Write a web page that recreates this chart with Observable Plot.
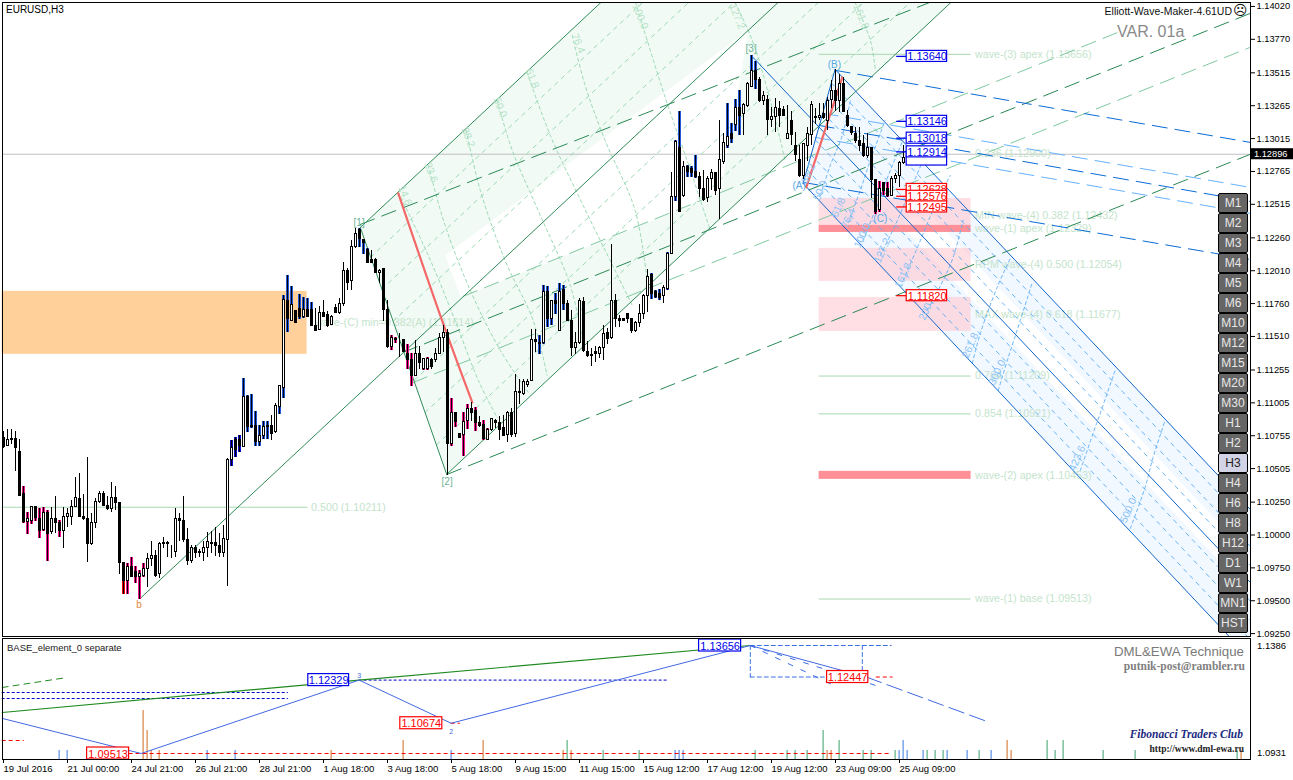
<!DOCTYPE html>
<html><head><meta charset="utf-8">
<script src="https://cdn.jsdelivr.net/npm/d3@7"></script>
<script src="https://cdn.jsdelivr.net/npm/@observablehq/plot@0.6"></script>
<style>
html,body{margin:0;padding:0;background:#fff;overflow:hidden}
#wrap{position:relative;width:1293px;height:780px;font-family:"Liberation Sans",Arial,sans-serif}
#wrap svg{display:block;background:transparent;overflow:visible}
.ov{position:absolute;white-space:nowrap;line-height:1}
.btn{position:absolute;left:1218px;width:28px;height:18px;background:#666;border:1px solid #000;border-radius:2px;color:#e8e8e8;font-size:12px;line-height:18px;text-align:center}
.btn.on{background:#d2d4e6;color:#222}
</style></head><body><div id="wrap"></div>
<script>
// Candles, prices in pips above 1.0000 (1074 = 1.1074)
const opens=[1074,1068,1073,1073,1063,1031,1010,1011,1021,1012,1004,1017,1002,1012,1009,1003,1014,1014,1021,1027,1014,1012,993,1009,1025,1031,1022,1020,1028,1024,979,965,976,972,968,969,974,982,984,970,994,994,987,987,1012,1011,996,980,990,987,986,990,994,994,992,986,996,1057,1072,1072,1067,1105,1083,1083,1071,1075,1083,1083,1078,1097,1112,1178,1163,1170,1172,1166,1171,1171,1159,1156,1169,1167,1160,1173,1169,1176,1201,1193,1219,1232,1224,1217,1209,1209,1199,1202,1171,1143,1149,1148,1148,1138,1133,1121,1138,1126,1126,1133,1133,1138,1150,1154,1069,1093,1077,1076,1087,1096,1094,1085,1084,1072,1080,1087,1085,1081,1076,1093,1077,1109,1107,1114,1117,1148,1145,1146,1185,1164,1178,1155,1186,1176,1163,1142,1146,1177,1139,1137,1139,1138,1142,1154,1150,1178,1164,1164,1168,1164,1155,1161,1168,1182,1198,1185,1183,1182,1187,1214,1257,1294,1258,1280,1278,1276,1272,1263,1256,1271,1275,1263,1284,1296,1305,1312,1325,1320,1326,1341,1353,1346,1330,1331,1316,1318,1324,1323,1301,1315,1296,1285,1273,1296,1304,1318,1317,1320,1315,1331,1338,1330,1343,1319,1310,1305,1300,1297,1288,1294,1270,1247,1268,1263,1258,1271,1273,1283,1287];
const closes=[1067,1072,1072,1066,1030,1010,1012,1021,1013,1003,1017,1001,1012,1009,1003,1014,1016,1021,1028,1014,1012,993,1009,1025,1031,1022,1020,1028,1024,979,965,976,968,968,970,974,982,984,969,993,993,993,987,1012,1011,996,980,990,986,986,990,995,993,992,986,997,1057,1066,1065,1068,1105,1082,1082,1071,1075,1082,1082,1077,1098,1113,1179,1164,1175,1161,1166,1171,1166,1159,1155,1169,1166,1159,1166,1169,1176,1201,1192,1219,1229,1225,1222,1207,1207,1199,1201,1171,1143,1150,1148,1148,1139,1133,1121,1138,1131,1134,1134,1128,1138,1150,1154,1069,1093,1086,1074,1086,1096,1093,1085,1083,1073,1080,1088,1085,1080,1075,1093,1076,1109,1108,1116,1116,1148,1147,1146,1185,1164,1178,1176,1185,1176,1163,1142,1146,1178,1140,1136,1136,1138,1142,1153,1149,1178,1164,1163,1163,1164,1155,1161,1168,1182,1196,1183,1181,1180,1188,1214,1257,1299,1246,1280,1276,1275,1272,1263,1255,1271,1275,1262,1285,1298,1303,1301,1325,1319,1327,1343,1353,1346,1330,1334,1316,1318,1325,1319,1319,1305,1304,1289,1273,1297,1305,1327,1317,1319,1317,1330,1338,1330,1343,1322,1311,1306,1300,1296,1288,1294,1270,1246,1263,1262,1258,1271,1273,1283,1287,1290];
const highs=[1079,1080,1080,1079,1073,1037,1017,1022,1021,1020,1021,1019,1021,1029,1011,1021,1020,1026,1044,1047,1031,1059,1016,1028,1033,1033,1029,1040,1037,1024,979,978,983,976,973,978,986,995,988,994,998,995,992,1020,1016,1029,1005,992,992,989,995,1002,1003,1006,1001,1007,1058,1072,1074,1076,1119,1106,1107,1094,1083,1086,1086,1091,1100,1114,1182,1197,1189,1170,1183,1181,1180,1177,1172,1174,1178,1170,1167,1175,1180,1207,1203,1224,1233,1233,1225,1218,1216,1210,1202,1202,1178,1152,1150,1153,1149,1145,1138,1148,1143,1134,1135,1134,1142,1153,1159,1156,1104,1093,1077,1093,1099,1101,1097,1090,1087,1081,1088,1088,1090,1091,1094,1096,1122,1118,1118,1118,1156,1156,1152,1190,1189,1178,1184,1191,1190,1178,1171,1154,1180,1181,1147,1142,1143,1143,1159,1157,1221,1183,1167,1164,1168,1164,1162,1175,1183,1202,1199,1186,1187,1190,1215,1276,1300,1322,1284,1281,1280,1289,1276,1277,1273,1278,1275,1315,1305,1328,1313,1331,1338,1328,1344,1365,1360,1348,1337,1334,1325,1332,1330,1326,1327,1322,1306,1296,1298,1310,1330,1324,1328,1328,1333,1346,1354,1350,1348,1323,1311,1310,1310,1304,1305,1294,1270,1269,1268,1268,1273,1275,1284,1296,1292];
const lows=[1066,1067,1069,1048,1030,1009,1000,1008,1010,997,1003,980,1000,1001,998,990,1006,1007,1021,1014,1011,979,992,1005,1024,1022,1019,1017,1019,970,955,955,968,963,951,968,960,976,968,967,990,983,982,983,995,994,977,978,982,983,980,983,986,984,983,983,961,1052,1059,1063,1067,1078,1081,1067,1067,1073,1073,1072,1077,1092,1104,1154,1162,1161,1164,1165,1166,1159,1155,1156,1166,1158,1159,1169,1168,1174,1186,1186,1218,1219,1213,1207,1207,1199,1191,1162,1142,1140,1146,1135,1139,1126,1113,1121,1126,1125,1125,1126,1131,1138,1139,1045,1067,1082,1074,1060,1080,1086,1079,1082,1072,1072,1079,1081,1072,1075,1070,1074,1074,1099,1106,1112,1117,1139,1137,1145,1158,1159,1168,1155,1171,1162,1136,1137,1145,1139,1135,1128,1131,1134,1133,1145,1149,1158,1158,1162,1161,1153,1154,1158,1164,1169,1179,1180,1178,1176,1186,1213,1254,1245,1257,1272,1272,1271,1257,1254,1253,1262,1258,1240,1282,1294,1298,1307,1304,1304,1325,1341,1339,1329,1327,1304,1310,1306,1310,1318,1301,1296,1284,1272,1270,1284,1296,1312,1315,1316,1308,1324,1322,1321,1321,1310,1304,1298,1292,1287,1286,1256,1244,1245,1258,1257,1258,1267,1264,1282,1285];
const darkBlueBars=[57,58,59];
const blueBars=[60,61,62,63,64,65,66,69,70,71,72,73,74,75,76,77,89,90,91,134,135,136,137,138,139,140,162,163,164,166,168,169,171,172,173,181,182,183,184,187,188];
const pinkBars=[5,6,7,8,9,10,11,14,31,32,33,34,35,97,98,101,102,105,106,112,113,114,115,116,118,120,121,218,219,220,221];
const redBars=[30];

// Right axis
const priceTicks=[1.1402,1.1377,1.13515,1.13265,1.13015,1.12765,1.12515,1.1226,1.1201,1.1176,1.1151,1.11255,1.11005,1.10755,1.10505,1.1025,1.1,1.0975,1.095,1.0925];
const lastPrice=1.12896;

// Drawn objects: flat lists bar,pips,bar,pips...
const orangeZone=[-0.33,1137.4,75.9,1185.3];
const pinkZones=[[1235.5,1256],[1192.9,1218],[1154.8,1180.7]];
const redZones=[[1230.1,1235.5],[1042.3,1048.4]];
const greenBand=[89.2,1233.9,149.9,1406.6,237.4,1406.6,110.8,1046.1];
const blueBand=[207.9,1354.1,311.67,1019.5,311.67,922.9,306.4,922.9,199.9,1267.4];
const whiteGaps=[[110.4,1212.6,153.4,1310,186.2,1383.8,179.2,1259.8,114.4,1180.7],[225.4,1240.8,311.67,964,311.67,983.7,231.7,1243.8],[225.4,1240.8,311.67,964,311.67,955.6,225.4,1232.4]];
const greenSolid=[[34.2,951.8,194.2,1406.6],[89.2,1233.9,149.9,1406.6],[110.8,1046.1,237.4,1406.6],[89.2,1233.9,110.8,1046.1]];
const blueSolid=[[207.9,1354.1,311.67,1019.5],[186.9,1364.8,311.67,964],[199.9,1267.4,306.4,922.9],[199.9,1267.4,207.9,1354.1]];
const greenLong=[[89.2,1236.2,232.9,1406.6],[99.9,1138.9,311.67,1396.7],[110.9,1046.1,311.67,1289.5]];
const paleGreenLong=[[114.9,1181.5,279.2,1383],[102.4,1116,311.67,1370.9]];
const blueLong=[[207.9,1353.4,311.67,1298.6],[203.9,1311.5,311.67,1253.7],[199.9,1268.2,311.67,1209.6]];
const paleBlueLong=[[204.9,1320.7,311.67,1264.4],[202.9,1302.4,311.67,1244.6]];
const greenFine=[[91.8,1211.4,159.8,1405],[94.6,1187,171.3,1405],[97.4,1162.5,182.7,1405],[102.7,1117.6,203.7,1405],[105.4,1093.2,215,1405],[108.3,1068.6,226.6,1405]];
const blueFine=[[207,1343.7,311.67,1006.1],[205.9,1332.4,311.67,991.4],[204.9,1321.2,311.67,976.8],[203,1300.3,311.67,949.8],[201.9,1289.1,311.67,935.2],[200.9,1277.8,311.67,920.5]];
const greenArcs=[
[98.7,1260.6,106.2,1212.6,112.9,1163.2,118.7,1117.6,123.4,1089.4],
[106.2,1281.1,110.4,1235.5,116.7,1186,124.2,1140.4,131.2,1108.4],
[115.7,1307.7,119.2,1262.1,125.4,1208.8,132.4,1163.2,135.9,1121.4],
[123.4,1330.5,127.2,1292.5,134.2,1243.1,141.7,1189.8,145,1144.2],
[130.9,1351.8,136.7,1303.9,144.9,1250.7,152.9,1201.2,157.2,1174.6],
[142.2,1380,145.4,1342,150.4,1300.1,157.9,1246.9,160.9,1193.6],
[158,1405,165.9,1328.3,170.9,1284.9,176.7,1231.7],
[182.9,1405,187.2,1376.2,191.7,1330.5,195.4,1284.9],
[212.9,1405,216.7,1376.2,218,1353.4]];
const blueArcs=[
[204.2,1258.3,206.7,1281.1,209.7,1303.9,211.7,1330.5],
[211.2,1237.7,214.2,1262.1,216.7,1284.9,220.4,1315.3],
[214.9,1224.1,218.4,1250.7,221.7,1277.3,225.4,1303.9],
[219.2,1212.6,222.9,1235.5,227.2,1265.9,230.4,1288.7],
[224.9,1193.6,228.7,1220.2,232.9,1250.7,236.7,1273.5],
[230.9,1170.8,234.9,1193.6,237.4,1211.1,239.9,1239.3],
[242.2,1130.5,244.2,1153.3,248.4,1188.3,251.7,1210.4],
[248.7,1110,251.2,1135.1,254.2,1163.2,257.2,1192.1],
[269.2,1049.1,272.4,1077.3,274.7,1097,277.9,1125.2],
[281.7,1005,285.4,1036.2,287.4,1059,290.4,1087.1]];
const redLines=[[98.7,1259.8,109.9,1160.9,117.2,1100.8],[209.7,1348,200.7,1264.4]];
const greenFibLabels=[["14.6",100.4,1258.3],["23.6",106.9,1275.8],["38.2",116.2,1302.4],["50.0",124.2,1325.2],["61.8",132.2,1347.3],["76.4",143.7,1373.9],["100.0",159.2,1394.4],["127.2",183.4,1394.4],["161.8",214.4,1394.4]];
const blueFibLabels=[["38.2",201.2,1275],["50.0",204.2,1262],["61.8",208.7,1249.2],["76.4",211.2,1240.8],["100.0",214.7,1227.8],["127.2",219.7,1216.4],["161.8",224.9,1197.4],["200.0",230.9,1173],["261.8",241.7,1144.2],["300.0",248.4,1123.7],["423.6",268.4,1058.3],["500.0",281.2,1018.7]];
const levelLines=[[203.9,241.9,1.13656],[203.9,241.9,1.11209],[203.9,241.9,1.10921],[203.9,241.9,1.09513],[-0.33,76.1,1.10211]];
const levelLabels=[["wave-(3) apex (1.13656)",242.9,1.13656],["0.236 (1.12900)",242.9,1.129],["MIN wave-(4) 0.382 (1.12432)",242.9,1.12432],["wave-(1) apex (1.12329)",242.9,1.12329],["RPM wave-(4) 0.500 (1.12054)",242.9,1.12054],["MAX wave-(4) 0.618 (1.11677)",242.9,1.11677],["0.764 (1.11209)",242.9,1.11209],["0.854 (1.10921)",242.9,1.10921],["wave-(2) apex (1.10453)",242.9,1.10453],["wave-(1) base (1.09513)",242.9,1.09513],["0.500 (1.10211)",76.9,1.10211],["wave-(C) min=0.382(A) (1.11614)",77.9,1.11614]];
const waveLabels=[["[1]",88.9,1237.8,"#6fb59b"],["[2]",110.9,1040.8,"#6fb59b"],["[3]",186.9,1370.1,"#6fb59b"],["b",33.9,947.2,"#e0893c"],["(B)",207.7,1357.9,"#5aa8e6"],["(A)",198.9,1265.9,"#5aa8e6"],["(C)",219.2,1240.8,"#5aa8e6"]];
const blueTags=[1.1364,1.13146,1.13018,1.12914];
const redTags=[1.12628,1.12576,1.12495,1.1182];

// Lower pane
const zigzagBars=[-0.33,34.4,88.9,111.9,186.7,215.7];
const zigzagPrices=[1.1086,1.09513,1.12329,1.10674,1.13656,1.12447];
const zigzagNext=[[215.7,1.12447],[245.9,1.1074]];
const fanDashes=[[186.7,1.13656,208.7,1.12045],[186.7,1.13656,218.9,1.12083]];
const greenTrendBars=[-0.33,88.9,186.7];
const greenTrendPrices=[1.11086,1.12329,1.13656];
const greenStub=[-0.33,1.12045,15.9,1.12429];
const navyDashes=[[-0.33,71.2,1.11853],[-0.33,71.2,1.11623],[88.9,166.2,1.12329]];
const redDashes=[[-0.33,5.2,1.10012],[31.4,221.9,1.09513],[111.9,114.2,1.10674],[218.2,222.4,1.12447]];
const boxDashes=[[186.7,1.13656,221.9,1.13656],[186.7,1.13656,186.7,1.12447],[186.7,1.12447,214.7,1.12447],[214.7,1.13656,214.7,1.12447]];
const lowerTags=[["1.09513",1.09513,20.9,31.4,"red"],["1.10674",1.10674,99.2,109.7,"red"],["1.12329",1.12329,76.2,86.4,"blue"],["1.13656",1.13656,173.9,184.4,"blue"],["1.12447",1.12447,205.9,216.2,"red"]];
const spikeBars=[13.9,15.9,34.9,35.9,36.9,38.9,50.9,57.9,81.9,99.9,111.9,119.9,139.9,140.9,141.9,149.9,158.9,167.9,168.9,169.9,187.9,195.9,197.9,200.9,204.9,205.9,206.9,208.9,214.9,216.9,222.9,223.9,224.9,225.9,229.9,230.9,232.9,234.9,235.9,240.9,243.9,246.9,250.9,251.9,260.9,262.9,264.9,274.9,282.9,308.4,309.4];
const spikeTops=[1.09628,1.09628,1.1116,1.10396,1.09628,1.09628,1.09628,1.09628,1.09628,1.10012,1.09628,1.10012,1.09628,1.10012,1.09628,1.09628,1.09628,1.09628,1.09628,1.09628,1.09628,1.09628,1.09628,1.09628,1.10396,1.09628,1.09628,1.10012,1.09628,1.09628,1.09628,1.09628,1.10012,1.09628,1.09628,1.09628,1.09628,1.09628,1.09628,1.09628,1.09628,1.09628,1.10012,1.09628,1.10012,1.09628,1.10012,1.09628,1.09628,1.09628,1.09628];
const spikeKinds=["b","b","o","o","o","o","b","b","o","o","b","o","o","g","o","g","g","b","b","b","g","g","g","g","g","o","o","g","g","g","g","b","b","b","b","g","g","g","b","b","g","b","o","o","g","g","g","g","g","g","o"];
const tickBars=[0,16,32,48,64,80,96,112,128,144,160,176,192,208,224];
const tickLabels=["19 Jul 2016","21 Jul 00:00","24 Jul 21:00","26 Jul 21:00","28 Jul 21:00","1 Aug 18:00","3 Aug 18:00","5 Aug 18:00","9 Aug 15:00","11 Aug 15:00","15 Aug 12:00","17 Aug 12:00","19 Aug 12:00","23 Aug 09:00","25 Aug 09:00"];
const buttons=["M1","M2","M3","M4","M5","M6","M10","M12","M15","M20","M30","H1","H2","H3","H4","H6","H8","H12","D1","W1","MN1","HST"];

const P=v=>1+v/10000;
const path=a=>{const o=[];for(let i=0;i<a.length;i+=2)o.push({x:a[i],y:P(a[i+1])});return o};
const lineOf=(a,opt)=>Plot.line(path(a),{x:"x",y:"y",clip:true,...opt});
const lines=(list,opt)=>list.map(a=>lineOf(a,opt));
const bars=opens.map((o,i)=>({i,o:P(o),c:P(closes[i]),h:P(highs[i]),l:P(lows[i]),up:closes[i]>=o,
  mark:darkBlueBars.includes(i)?"#0a10c8":blueBars.includes(i)?"#2458d8":pinkBars.includes(i)?"#f5148c":redBars.includes(i)?"#f00000":null}));
const xDomain=[-0.25,311.75];
const font='"Liberation Sans",Arial,sans-serif';
const pale="#c4e4cc";

const tag=(price,color)=>[
  Plot.ruleY([price],{x1:223.3,x2:225.8,stroke:color,strokeWidth:1.3}),
  Plot.rect([price],{x1:225.8,x2:235.9,y1:d=>d-0.00042,y2:d=>d+0.00042,fill:"#fff",stroke:color,strokeWidth:1.2}),
  Plot.text([price],{x:230.9,y:d=>d,text:d=>d.toFixed(5),fill:color,fontSize:11,dy:0.5})
];

const main=Plot.plot({
  width:1293,height:637,marginLeft:2,marginRight:43,marginTop:2,marginBottom:1,
  style:{fontFamily:font,fontSize:"9px",color:"#000",overflow:"visible",background:"transparent"},
  x:{domain:xDomain,axis:null},
  y:{domain:[1.09228,1.1405]},
  marks:[
    Plot.rect([orangeZone],{x1:d=>d[0],y1:d=>P(d[1]),x2:d=>d[2],y2:d=>P(d[3]),fill:"#ffd09a"}),
    lineOf(greenBand,{fill:"#f2faf5",stroke:"none"}),
    lineOf(blueBand,{fill:"#f2f8ff",stroke:"none"}),
    ...whiteGaps.map(a=>lineOf(a,{fill:"#fff",stroke:"none"})),
    Plot.rect(pinkZones,{x1:203.9,x2:241.9,y1:d=>P(d[0]),y2:d=>P(d[1]),fill:"#ffc8d2",fillOpacity:0.6}),
    Plot.rect(redZones,{x1:203.9,x2:241.9,y1:d=>P(d[0]),y2:d=>P(d[1]),fill:"#ff9098"}),
    Plot.ruleY(levelLines,{x1:d=>d[0],x2:d=>d[1],y:d=>d[2],stroke:"#a6d8b0",strokeWidth:1}),
    Plot.ruleY([lastPrice],{stroke:"#c0c0c0",strokeWidth:1}),
    Plot.text(levelLabels,{x:d=>d[1],y:d=>d[2],text:d=>d[0],textAnchor:"start",fill:pale,fontSize:10.7}),
    ...lines(greenFine,{stroke:"#8ed5ab",strokeWidth:0.9,strokeDasharray:"4,5"}),
    ...lines(greenArcs,{stroke:"#8ed5ab",strokeWidth:0.9,strokeDasharray:"3,3",curve:"catmull-rom"}),
    ...lines(blueFine,{stroke:"#58acf5",strokeWidth:0.9,strokeDasharray:"4,5"}),
    ...lines(blueArcs,{stroke:"#58acf5",strokeWidth:0.9,strokeDasharray:"3,3",curve:"catmull-rom"}),
    ...lines(paleGreenLong,{stroke:"#80c9a0",strokeWidth:1,strokeDasharray:"15,8"}),
    ...lines(paleBlueLong,{stroke:"#66b2ff",strokeWidth:1,strokeDasharray:"15,8"}),
    ...lines(greenLong,{stroke:"#2a8a55",strokeWidth:1,strokeDasharray:"15,8"}),
    ...lines(blueLong,{stroke:"#0a6cd6",strokeWidth:1,strokeDasharray:"15,8"}),
    ...lines(greenSolid,{stroke:"#2e8b57",strokeWidth:1}),
    ...lines(blueSolid,{stroke:"#1166cc",strokeWidth:1}),
    ...redLines.map(a=>lineOf(a,{stroke:"#f46868",strokeWidth:2.2,curve:"catmull-rom"})),
    Plot.text(greenFibLabels,{x:d=>d[1],y:d=>P(d[2]),text:d=>d[0],rotate:68,fill:"#b4e4c6",fontSize:10.5}),
    Plot.text(blueFibLabels,{x:d=>d[1],y:d=>P(d[2]),text:d=>d[0],rotate:-66,fill:"#8cc4f6",fontSize:10.5}),
    // candles
    Plot.ruleX(bars.filter(d=>d.mark),{x:"i",y1:"l",y2:"h",stroke:"mark",strokeWidth:3,shapeRendering:"crispEdges"}),
    Plot.ruleX(bars,{x:"i",y1:"l",y2:"h",stroke:"#000",strokeWidth:1,shapeRendering:"crispEdges"}),
    Plot.rect(bars,{x1:d=>d.i-0.25,x2:d=>d.i+0.25,y1:d=>d.o,y2:d=>d.c,fill:d=>d.up?"#fff":"#000",stroke:"#000",strokeWidth:1,shapeRendering:"crispEdges"}),
    Plot.text(waveLabels,{x:d=>d[1],y:d=>P(d[2]),text:d=>d[0],fill:d=>d[3],fontSize:10}),
    Plot.rect([1.12845],{x1:225.8,x2:235.9,y1:1.1281,y2:1.1288,fill:"#fff",stroke:"#0000ee",strokeWidth:1.2}),
    ...blueTags.flatMap(p=>tag(p,"#0000ee")),
    ...redTags.flatMap(p=>tag(p,"#ff0000")),
    Plot.frame({stroke:"#000",strokeWidth:1}),
    Plot.axisY(priceTicks,{anchor:"right",tickFormat:d=>d.toFixed(5),tickSize:4,tickPadding:2,label:null,fontSize:9.3}),
    Plot.rect([lastPrice],{x1:312,x2:323.5,y1:d=>d-0.00042,y2:d=>d+0.00042,fill:"#000"}),
    Plot.text([lastPrice],{x:312.6,y:d=>d,text:d=>d.toFixed(5),fill:"#fff",textAnchor:"start",fontSize:9.3})
  ]
});

const twoPoint=(a,opt)=>Plot.line([{x:a[0],y:a[1]},{x:a[2],y:a[3]}],{x:"x",y:"y",...opt});
const lower=Plot.plot({
  width:1293,height:143,marginLeft:2,marginRight:43,marginTop:1,marginBottom:21,
  style:{fontFamily:font,fontSize:"9.5px",color:"#000",background:"transparent"},
  x:{domain:xDomain},
  y:{domain:[1.09283,1.13925],axis:null},
  marks:[
    Plot.ruleX(spikeBars.map((b,i)=>({b,t:spikeTops[i],k:spikeKinds[i]})),{x:"b",y1:1.09283,y2:"t",
      stroke:d=>({b:"#3a78e0",o:"#d2691e",g:"#3aa06a"})[d.k],strokeWidth:1}),
    ...navyDashes.map(d=>Plot.ruleY([d[2]],{x1:d[0],x2:d[1],stroke:"#0000cc",strokeWidth:1,strokeDasharray:"3,2"})),
    ...redDashes.map(d=>Plot.ruleY([d[2]],{x1:d[0],x2:d[1],stroke:"#ff0000",strokeWidth:1,strokeDasharray:"4,3"})),
    ...boxDashes.map(a=>twoPoint(a,{stroke:"#3a6ee8",strokeWidth:1,strokeDasharray:"4,3"})),
    ...fanDashes.map(a=>twoPoint(a,{stroke:"#3a6ee8",strokeWidth:1,strokeDasharray:"5,9"})),
    twoPoint(greenStub,{stroke:"#1e8a1e",strokeWidth:1,strokeDasharray:"6,5"}),
    Plot.line(greenTrendBars.map((b,i)=>({b,p:greenTrendPrices[i]})),{x:"b",y:"p",stroke:"#1e8a1e",strokeWidth:1.2}),
    Plot.line(zigzagBars.map((b,i)=>({b,p:zigzagPrices[i]})),{x:"b",y:"p",stroke:"#4169e1",strokeWidth:1}),
    Plot.line(zigzagNext.map(d=>({b:d[0],p:d[1]})),{x:"b",y:"p",stroke:"#4169e1",strokeWidth:1,strokeDasharray:"16,6"}),
    Plot.rect(lowerTags,{x1:d=>d[2],x2:d=>d[3],y1:d=>d[1]-0.0023,y2:d=>d[1]+0.0023,fill:"#fff",stroke:d=>d[4]=="red"?"#ff0000":"#0000ee",strokeWidth:1.2}),
    Plot.text(lowerTags,{x:d=>(d[2]+d[3])/2,y:d=>d[1],text:d=>d[0],fill:d=>d[4]=="red"?"#ff0000":"#0000ee",fontSize:11,dy:0.5}),
    Plot.text([["3",88.9,1.1248],["2",111.9,1.1033]],{x:d=>d[1],y:d=>d[2],text:d=>d[0],fill:"#4169e1",fontSize:7}),
    Plot.frame({stroke:"#000",strokeWidth:1}),
    Plot.axisX(tickBars,{anchor:"bottom",tickSize:4,tickPadding:2,label:null,textAnchor:"start",tickFormat:d=>tickLabels[tickBars.indexOf(d)],fontSize:9.5})
  ]
});
const wrap=document.getElementById("wrap");
wrap.append(main,lower);
const ov=(html,css)=>{const e=document.createElement("div");e.className="ov";e.style.cssText=css;e.innerHTML=html;wrap.append(e)};
ov("EURUSD,H3","left:6px;top:5px;font-size:10px;color:#000");
ov("Elliott-Wave-Maker-4.61UD","right:61px;top:6px;font-size:10.5px;color:#111");
ov("☹","left:1233px;top:3px;font-size:14px;font-family:'DejaVu Sans';color:#111");
ov("VAR. 01a","left:1117px;top:24px;font-size:16px;color:#8a8a8a");
ov("BASE_element_0 separate","left:7px;top:643px;font-size:9.5px;color:#222");
ov("DML&amp;EWA Technique","right:49px;top:645px;font-size:13.3px;color:#7a7a7a");
ov("putnik-post@rambler.ru","right:48px;top:661px;font-size:11.5px;font-family:'Liberation Serif';font-weight:bold;color:#808080");
ov("Fibonacci Traders Club","right:50px;top:729px;font-size:11.5px;font-family:'Liberation Serif';font-style:italic;font-weight:bold;color:#1a2a80");
ov("http://www.dml-ewa.ru","right:49px;top:745px;font-size:9.5px;font-family:'Liberation Serif';font-weight:bold;color:#222");
ov("1.1386","left:1257px;top:641px;font-size:9.5px;color:#000");
ov("1.0931","left:1257px;top:748px;font-size:9.5px;color:#000");
buttons.forEach((b,i)=>{const e=document.createElement("div");e.className="btn"+(b=="H3"?" on":"");e.style.top=(193+i*20)+"px";e.textContent=b;wrap.append(e)});
</script></body></html>
